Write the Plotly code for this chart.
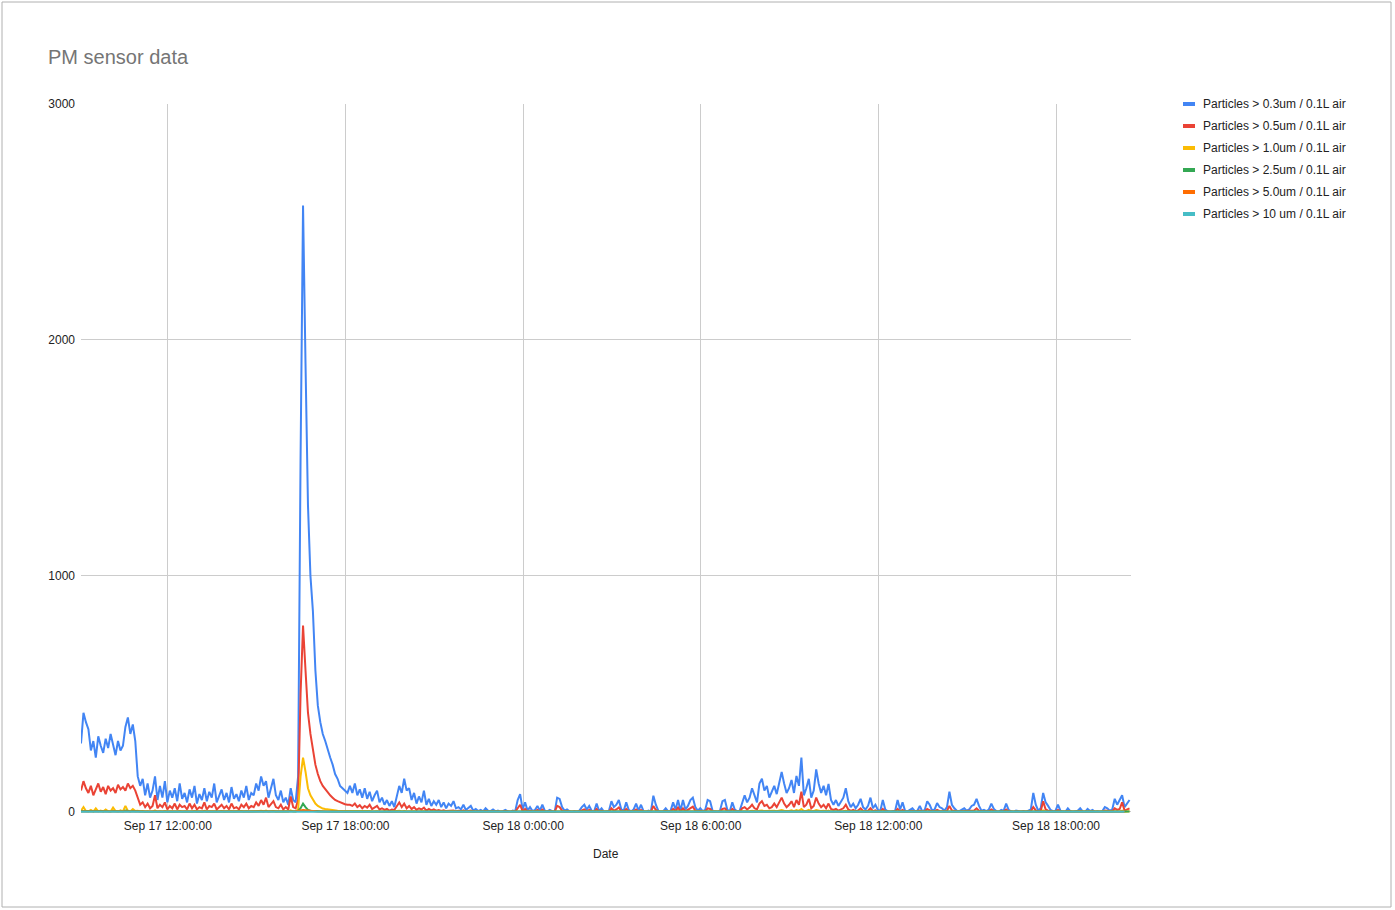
import pandas as pd
import plotly.graph_objects as go

START = "2023-09-17 09:04"

NAMES = [
    "Particles > 0.3um / 0.1L air",
    "Particles > 0.5um / 0.1L air",
    "Particles > 1.0um / 0.1L air",
    "Particles > 2.5um / 0.1L air",
    "Particles > 5.0um / 0.1L air",
    "Particles > 10 um / 0.1L air",
]
COLORS = ["#4285F4", "#EA4335", "#FBBC04", "#34A853", "#FF6D01", "#46BDC6"]

p03 = [
    290, 420, 380, 350, 260, 300, 230, 320, 280, 250, 310, 270, 330, 290, 240, 300, 260, 280, 360, 400, 330, 370, 300,
    150, 110, 140, 70, 120, 60, 90, 150,
    50, 110, 60, 130, 40, 90, 60, 100, 45, 120,
    55, 80, 40, 95, 60, 110, 35, 75, 50, 100,
    45, 85, 60, 120, 40, 70, 95, 50, 80, 40,
    105, 55, 75, 45, 90, 60, 110, 50, 80, 70,
    120, 90, 150, 110, 130, 60, 100, 140, 70, 50,
    90, 40, 60, 30, 100, 50, 40,
    150, 1500, 2570, 1900, 1300, 1000, 850, 600, 450, 380, 330, 300, 260, 230, 200, 160, 140, 110, 100, 90, 80,
    110, 80, 120, 70, 95, 60, 100, 55, 85, 45, 70, 90, 40, 60, 30, 50, 25, 45, 20, 70, 110, 80, 140, 90, 100,
    50, 80, 35, 65, 40, 90, 30, 55, 25, 45, 30, 50, 20, 40, 15, 35, 25, 45, 15,
    20, 10, 30, 8, 15, 25, 5, 12, 3, 8, 2, 15, 5, 3, 10, 2, 5, 0, 3, 8, 2, 0, 5, 3,
    50, 75, 10, 40, 5, 20, 3, 8, 25, 5,
    30, 5, 2, 8, 3, 0, 60, 55, 20, 5,
    10, 2, 0, 3, 0, 5, 20, 30, 10, 25,
    5, 2, 35, 3, 15, 0, 2, 5, 45, 20,
    30, 50, 10, 5, 40, 8, 2, 10, 35, 5,
    30, 3, 0, 5, 2, 68, 30, 5, 0, 3,
    15, 2, 5, 40, 10, 50, 5, 50, 10, 25,
    50, 60, 20, 5, 15, 3, 8, 50, 45, 5,
    2, 0, 5, 45, 50, 8, 3, 40, 10, 2,
    5, 42, 70, 40, 60, 100, 65, 40, 120, 140,
    90, 110, 60, 85, 110, 75, 130, 169, 120, 80,
    100, 135, 80, 152, 110, 230, 70, 100, 140, 60,
    90, 180, 120, 80, 110, 70, 118, 50, 30, 50,
    25, 40, 60, 100, 45, 20, 35, 15, 30, 55,
    20, 10, 25, 60, 15, 30, 8, 5, 50, 10,
    2, 0, 3, 5, 50, 10, 40, 5, 2, 8,
    15, 3, 5, 25, 2, 8, 45, 30, 5, 10,
    37, 20, 15, 5, 20, 85, 30, 15, 5, 3,
    8, 15, 5, 10, 25, 30, 55, 25, 5, 8,
    3, 10, 35, 12, 3, 0, 8, 5, 35, 8,
    2, 0, 5, 2, 0, 3, 0, 5, 10, 80,
    30, 5, 15, 80, 40, 25, 8, 3, 5, 30,
    5, 2, 0, 15, 3, 0, 2, 5, 15, 2,
    0, 12, 3, 8, 0, 2, 0, 3, 20, 15,
    5, 10, 55, 30, 50, 70, 20, 35, 50,
]

p05 = [
    90, 130, 100, 80, 110, 70, 95, 120, 85, 105, 75, 110, 90, 100, 80, 115, 95, 105, 90, 120, 100, 110, 90,
    60, 30, 40, 20, 35, 15, 25, 70,
    15, 30, 20, 40, 10, 25, 15, 35, 10, 30,
    20, 25, 10, 35, 15, 30, 10, 20, 15, 40,
    10, 25, 20, 35, 10, 20, 30, 15, 25, 10,
    35, 15, 20, 10, 30, 20, 35, 15, 25, 20,
    40, 25, 50, 30, 60, 20, 35, 45, 20, 15,
    30, 10, 20, 10, 65, 20, 15,
    50, 500, 790, 600, 420, 330, 260, 200, 160, 130, 110, 95, 80, 70, 60, 50, 45, 40, 35, 32, 30,
    30, 25, 35, 20, 28, 15, 25, 18, 30, 12, 20, 25, 10, 15, 8, 12, 5, 10, 8, 25, 40, 20, 35, 15, 25,
    12, 20, 8, 15, 10, 18, 5, 12, 6, 10, 5, 8, 4, 6, 3, 5, 4, 6, 2,
    4, 2, 6, 1, 3, 5, 1, 2, 0, 1, 0, 3, 1, 0, 2, 0, 1, 0, 0, 2, 0, 0, 1, 0,
    15, 30, 2, 12, 1, 5, 0, 2, 8, 1,
    10, 1, 0, 2, 0, 0, 25, 20, 5, 1,
    3, 0, 0, 1, 0, 1, 6, 10, 2, 8,
    1, 0, 12, 0, 4, 0, 0, 1, 15, 5,
    10, 18, 2, 1, 12, 2, 0, 3, 10, 1,
    8, 0, 0, 1, 0, 25, 8, 1, 0, 0,
    4, 0, 1, 12, 3, 18, 1, 15, 2, 8,
    15, 22, 5, 1, 4, 0, 2, 15, 12, 1,
    0, 0, 1, 12, 15, 2, 0, 12, 3, 0,
    1, 15, 20, 10, 18, 30, 15, 10, 35, 45,
    25, 30, 15, 20, 35, 20, 40, 60, 35, 20,
    30, 45, 20, 50, 30, 85, 20, 30, 55, 15,
    25, 60, 35, 20, 30, 15, 35, 12, 8, 12,
    5, 10, 15, 30, 10, 4, 8, 3, 6, 15,
    4, 2, 5, 15, 3, 6, 1, 1, 12, 2,
    0, 0, 0, 1, 12, 2, 8, 1, 0, 2,
    3, 0, 1, 5, 0, 2, 12, 6, 1, 2,
    8, 4, 3, 1, 4, 25, 6, 3, 1, 0,
    2, 3, 1, 2, 5, 6, 15, 5, 1, 2,
    0, 2, 10, 3, 0, 0, 2, 1, 10, 2,
    0, 0, 1, 0, 0, 0, 0, 1, 2, 20,
    6, 1, 3, 45, 10, 5, 2, 0, 1, 8,
    1, 0, 0, 3, 0, 0, 0, 1, 3, 0,
    0, 3, 0, 2, 0, 0, 0, 0, 5, 3,
    1, 2, 15, 8, 12, 40, 5, 10, 15,
]

p10 = [
    5, 20, 3, 2, 8, 1, 15, 2, 5, 1, 10, 2, 1, 18, 3, 1, 6, 2, 25, 4, 2, 12, 3,
    4, 1, 3, 0, 2, 0, 1, 6,
    0, 2, 0, 3, 0, 1, 0, 2, 0, 3,
    0, 1, 0, 2, 0, 3, 0, 1, 0, 4,
    0, 1, 0, 2, 0, 1, 3, 0, 1, 0,
    2, 0, 1, 0, 3, 0, 2, 0, 1, 0,
    3, 1, 4, 2, 5, 0, 2, 3, 0, 0,
    2, 0, 1, 0, 6, 1, 0,
    10, 150, 230, 170, 100, 70, 50, 35, 25, 18, 14, 12, 10, 8, 7, 6, 5, 4, 4, 3, 3,
    3, 2, 4, 1, 3, 1, 2, 1, 3, 0, 2, 2, 0, 1, 0, 1, 0, 1, 0, 2, 4, 1, 3, 1, 2,
    1, 2, 0, 1, 0, 2, 0, 1, 0, 1, 0, 1, 0, 0, 0, 1, 0, 1, 0,
    0, 0, 1, 0, 0, 1, 0, 0, 0, 0, 0, 0, 0, 0, 0, 0, 0, 0, 0, 0, 0, 0, 0, 0,
    2, 3, 0, 1, 0, 0, 0, 0, 1, 0,
    1, 0, 0, 0, 0, 0, 3, 2, 0, 0,
    0, 0, 0, 0, 0, 0, 1, 1, 0, 1,
    0, 0, 1, 0, 0, 0, 0, 0, 2, 0,
    1, 2, 0, 0, 1, 0, 0, 0, 1, 0,
    1, 0, 0, 0, 0, 3, 1, 0, 0, 0,
    0, 0, 0, 1, 0, 2, 0, 2, 0, 1,
    2, 3, 0, 0, 0, 0, 0, 2, 1, 0,
    0, 0, 0, 1, 2, 0, 0, 1, 0, 0,
    0, 2, 3, 1, 2, 4, 2, 1, 5, 6,
    3, 4, 2, 3, 5, 3, 6, 8, 5, 3,
    4, 6, 3, 7, 4, 12, 3, 4, 8, 2,
    3, 8, 5, 3, 4, 2, 5, 1, 1, 1,
    0, 1, 2, 4, 1, 0, 1, 0, 0, 2,
    0, 0, 0, 2, 0, 1, 0, 0, 1, 0,
    0, 0, 0, 0, 1, 0, 1, 0, 0, 0,
    0, 0, 0, 0, 0, 0, 1, 1, 0, 0,
    1, 0, 0, 0, 0, 3, 1, 0, 0, 0,
    0, 0, 0, 0, 0, 1, 2, 0, 0, 0,
    0, 0, 1, 0, 0, 0, 0, 0, 1, 0,
    0, 0, 0, 0, 0, 0, 0, 0, 0, 3,
    1, 0, 0, 6, 1, 0, 0, 0, 0, 1,
    0, 0, 0, 0, 0, 0, 0, 0, 0, 0,
    0, 0, 0, 0, 0, 0, 0, 0, 1, 0,
    0, 0, 2, 1, 1, 5, 0, 1, 2,
]

p25 = [
    4, 5, 3, 4, 3, 2, 4, 3, 3, 2, 4, 3, 2, 4, 3, 2, 3, 2, 5, 3, 2, 4, 3,
    2, 1, 2, 1, 1, 1, 1, 2,
    1, 1, 1, 1, 0, 1, 1, 1, 0, 1,
    1, 1, 0, 1, 1, 1, 0, 1, 1, 1,
    0, 1, 1, 1, 0, 1, 1, 0, 1, 0,
    1, 0, 1, 0, 1, 1, 1, 0, 1, 1,
    1, 1, 2, 1, 2, 0, 1, 1, 1, 0,
    1, 0, 1, 0, 2, 1, 1,
    3, 15, 35, 20, 8, 5, 4, 3, 2, 2, 2, 1, 1, 1, 1, 1, 1, 1, 1, 1, 1,
    1, 1, 1, 1, 1, 1, 1, 1, 1, 0, 1, 1, 0, 1, 0, 1, 0, 1, 0, 1, 1, 1, 1, 1, 1,
    1, 1, 0, 1, 0, 1, 0, 1, 0, 1, 0, 1, 0, 0, 0, 1, 0, 1, 0,
    0, 0, 1, 0, 0, 1, 0, 0, 0, 0, 0, 0, 0, 0, 0, 0, 0, 0, 0, 0, 0, 0, 0, 0,
    1, 1, 0, 1, 0, 0, 0, 0, 1, 0,
    1, 0, 0, 0, 0, 0, 1, 1, 0, 0,
    0, 0, 0, 0, 0, 0, 1, 1, 0, 1,
    0, 0, 1, 0, 0, 0, 0, 0, 1, 0,
    1, 1, 0, 0, 1, 0, 0, 0, 1, 0,
    1, 0, 0, 0, 0, 1, 1, 0, 0, 0,
    0, 0, 0, 1, 0, 1, 0, 1, 0, 1,
    1, 1, 0, 0, 0, 0, 0, 1, 1, 0,
    0, 0, 0, 1, 1, 0, 0, 1, 0, 0,
    0, 1, 1, 1, 1, 2, 1, 1, 2, 2,
    1, 2, 1, 1, 2, 1, 2, 3, 2, 1,
    2, 2, 1, 2, 2, 3, 1, 2, 2, 1,
    1, 3, 2, 1, 2, 1, 2, 1, 1, 1,
    0, 1, 1, 1, 1, 0, 1, 0, 0, 1,
    0, 0, 0, 1, 0, 1, 0, 0, 1, 0,
    0, 0, 0, 0, 1, 0, 1, 0, 0, 0,
    0, 0, 0, 0, 0, 0, 1, 1, 0, 0,
    1, 0, 0, 0, 0, 1, 1, 0, 0, 0,
    0, 0, 0, 0, 0, 1, 1, 0, 0, 0,
    0, 0, 1, 0, 0, 0, 0, 0, 1, 0,
    0, 0, 0, 0, 0, 0, 0, 0, 0, 1,
    1, 0, 0, 2, 1, 0, 0, 0, 0, 1,
    0, 0, 0, 0, 0, 0, 0, 0, 0, 0,
    0, 0, 0, 0, 0, 0, 0, 0, 1, 0,
    0, 0, 1, 1, 1, 2, 0, 1, 1,
]

# coarser (15 min) readings for the two largest size bins: essentially zero
p50 = [
    1, 1, 1, 1, 1, 1, 1, 1, 0, 0, 0, 0, 0, 0, 0, 0, 0, 0, 0, 0,
    0, 0, 0, 0, 0, 0, 0, 0, 0, 2, 8, 3, 1, 1, 0, 0, 0, 0, 0, 0,
    0, 0, 0, 0, 0, 0, 0, 0, 0, 0, 0, 0, 0, 0, 0, 0, 0, 0, 0, 0,
    0, 0, 0, 0, 0, 0, 0, 0, 0, 0, 0, 0, 0, 0, 0, 0, 0, 0, 0, 0,
    0, 0, 0, 0, 0, 0, 0, 0, 0, 0, 1, 0, 1, 1, 0, 1, 0, 0, 0, 0,
    0, 0, 0, 0, 0, 0, 0, 0, 0, 0, 0, 0, 0, 0, 0, 0, 0, 0, 0, 0,
    0, 0, 0, 0, 0, 0, 0, 0, 0, 0, 0, 0, 0, 0, 0, 0, 0, 0, 0, 0,
    0, 0,
]
p100 = [
    0, 0, 0, 0, 0, 0, 0, 0, 0, 0, 0, 0, 0, 0, 0, 0, 0, 0, 0, 0,
    0, 0, 0, 0, 0, 0, 0, 0, 0, 0, 1, 0, 0, 0, 0, 0, 0, 0, 0, 0,
    0, 0, 0, 0, 0, 0, 0, 0, 0, 0, 0, 0, 0, 0, 0, 0, 0, 0, 0, 0,
    0, 0, 0, 0, 0, 0, 0, 0, 0, 0, 0, 0, 0, 0, 0, 0, 0, 0, 0, 0,
    0, 0, 0, 0, 0, 0, 0, 0, 0, 0, 0, 0, 0, 0, 0, 0, 0, 0, 0, 0,
    0, 0, 0, 0, 0, 0, 0, 0, 0, 0, 0, 0, 0, 0, 0, 0, 0, 0, 0, 0,
    0, 0, 0, 0, 0, 0, 0, 0, 0, 0, 0, 0, 0, 0, 0, 0, 0, 0, 0, 0,
    0, 0,
]

SERIES = [(p03, "5min"), (p05, "5min"), (p10, "5min"), (p25, "5min"), (p50, "15min"), (p100, "15min")]

X_RANGE = ["2023-09-17 09:04", "2023-09-18 20:32"]
Y_TICKS = [0, 1000, 2000, 3000]

# layout in pixels
W, H = 1395, 910
PL, PR, PT, PB = 81, 1131, 104, 813


def px_x(px):
    return (px - PL) / (PR - PL)


def px_y(py):
    return (PB - py) / (PB - PT)


FONT = "Liberation Sans, Arial, sans-serif"

fig = go.Figure()
for (vals, step), name, color in zip(SERIES, NAMES, COLORS):
    t = pd.date_range(START, periods=len(vals), freq=step)
    fig.add_trace(go.Scatter(x=t, y=vals, mode="lines", name=name,
                             line=dict(color=color, width=2), showlegend=False))

shapes = []
annotations = []
# outer chart border
shapes.append(dict(type="rect", xref="paper", yref="paper",
                   x0=px_x(2), x1=px_x(1391), y0=px_y(907), y1=px_y(2),
                   line=dict(color="#b0b0b0", width=1), layer="below"))
# title
annotations.append(dict(text="PM sensor data", xref="paper", yref="paper",
                        x=px_x(46), y=px_y(57), xanchor="left", yanchor="middle",
                        showarrow=False, font=dict(family=FONT, size=20, color="#757575")))
# axis title
annotations.append(dict(text="Date", xref="paper", yref="paper",
                        x=px_x(606), y=px_y(854), xanchor="center", yanchor="middle",
                        showarrow=False, font=dict(family=FONT, size=12, color="#222222")))
# legend
for k, (name, color) in enumerate(zip(NAMES, COLORS)):
    cy = 104 + 22 * k
    shapes.append(dict(type="rect", xref="paper", yref="paper",
                       x0=px_x(1183), x1=px_x(1195), y0=px_y(cy + 2), y1=px_y(cy - 2),
                       fillcolor=color, line=dict(width=0)))
    annotations.append(dict(text=name, xref="paper", yref="paper",
                            x=px_x(1201), y=px_y(cy), xanchor="left", yanchor="middle",
                            showarrow=False, font=dict(family=FONT, size=12, color="#222222")))

fig.update_layout(
    width=W, height=H,
    margin=dict(l=PL, r=W - PR, t=PT, b=H - PB),
    paper_bgcolor="white", plot_bgcolor="white",
    font=dict(family=FONT, size=12, color="#222222"),
    shapes=shapes, annotations=annotations,
    showlegend=False,
    xaxis=dict(range=X_RANGE, type="date", tick0="2023-09-17 00:00", dtick=6 * 3600 * 1000,
               tickformat="%b %-d %-H:%M:%S", showgrid=True, gridcolor="#cccccc", gridwidth=1,
               zeroline=False, showline=False, ticks="", ticklabelstandoff=4,
               tickfont=dict(size=12, color="#222222")),
    yaxis=dict(range=[-5, 3000], tickvals=Y_TICKS, showgrid=True, gridcolor="#cccccc", gridwidth=1,
               zeroline=False, showline=False, ticks="", ticklabelstandoff=5,
               tickfont=dict(size=12, color="#222222")),
)

fig.write_html("out.html", config={"displayModeBar": False},
               post_script="document.body.style.margin='0';document.body.style.padding='0';")
